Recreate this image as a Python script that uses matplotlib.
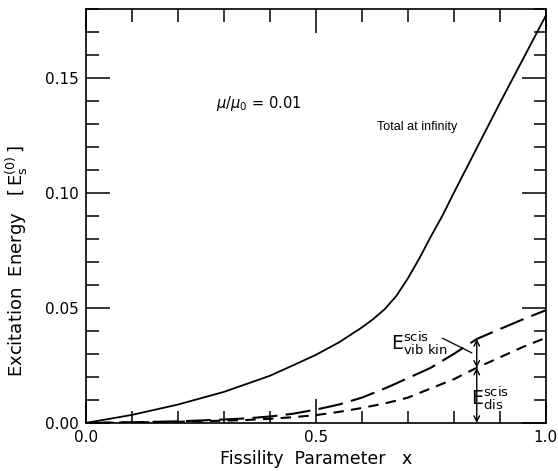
import numpy as np
import matplotlib
matplotlib.use('Agg')
import matplotlib.pyplot as plt
from matplotlib.ticker import MultipleLocator

# values
x_fis = [0.0, 0.1, 0.2, 0.3, 0.35, 0.4, 0.45, 0.5, 0.55, 0.6, 0.625, 0.65, 0.675, 0.7, 0.725, 0.75, 0.775,
         0.8, 0.85, 0.9, 0.95, 1.0]
total_inf = [0.0, 0.0035, 0.008, 0.0135, 0.017, 0.0205, 0.025, 0.0296, 0.035, 0.0415, 0.0452, 0.0495,
             0.0552, 0.0628, 0.0715, 0.081, 0.090, 0.100, 0.1195, 0.139, 0.158, 0.177]
vib_kin = [0.0, 0.0003, 0.0007, 0.0015, 0.002, 0.0028, 0.004, 0.0058, 0.008, 0.011, 0.013, 0.015,
           0.0172, 0.0195, 0.0217, 0.024, 0.027, 0.030, 0.0365, 0.0408, 0.045, 0.049]
dis = [0.0, 0.0002, 0.0005, 0.001, 0.0013, 0.0018, 0.0025, 0.0034, 0.0048, 0.0065, 0.0075, 0.0085,
       0.0097, 0.011, 0.013, 0.015, 0.017, 0.019, 0.024, 0.0285, 0.033, 0.037]

x_arrow = 0.85
y_vib = 0.0365
y_dis = 0.024

plt.rcParams['font.family'] = 'DejaVu Sans'
plt.rcParams['mathtext.fontset'] = 'dejavusans'

fig = plt.figure(figsize=(5.58, 4.71), dpi=100)
ax = fig.add_axes([0.154, 0.102, 0.824, 0.879])

ax.plot(x_fis, total_inf, color='black', lw=1.3)
ax.plot(x_fis, vib_kin, color='black', lw=1.5, dashes=(12, 4))
ax.plot(x_fis, dis, color='black', lw=1.5, dashes=(5, 3.5))

# double arrows marking the two energies
ax.annotate('', xy=(x_arrow, y_vib), xytext=(x_arrow, y_dis),
            arrowprops=dict(arrowstyle='<->', color='black', lw=1, shrinkA=0, shrinkB=0))
ax.annotate('', xy=(x_arrow, y_dis), xytext=(x_arrow, 0.0),
            arrowprops=dict(arrowstyle='<->', color='black', lw=1, shrinkA=0, shrinkB=0))

ax.text(0.663, 0.0345, r'$\mathrm{E}^{\mathrm{scis}}_{\mathrm{vib\ kin}}$', fontsize=13.5,
        ha='left', va='center')
ax.plot([0.776, 0.839], [0.0368, 0.0305], color='black', lw=0.9)
ax.text(0.838, 0.011, r'$\mathrm{E}^{\mathrm{scis}}_{\mathrm{dis}}$', fontsize=13.5,
        ha='left', va='center')

ax.text(0.283, 0.139, r'$\mu/\mu_0$ = 0.01', fontsize=10.5, ha='left', va='center')
ax.text(0.72, 0.1287, 'Total at infinity', fontsize=9, family='Liberation Sans',
        ha='center', va='center')

ax.set_xlim(0, 1.0)
ax.set_ylim(0, 0.18)
ax.set_xticks([0.0, 0.5, 1.0])
ax.set_xticklabels(['0.0', '0.5', '1.0'])
ax.set_yticks([0.0, 0.05, 0.10, 0.15])
ax.set_yticklabels(['0.00', '0.05', '0.10', '0.15'])
ax.xaxis.set_minor_locator(MultipleLocator(0.1))
ax.yaxis.set_minor_locator(MultipleLocator(0.01))
ax.tick_params(which='both', direction='in', top=True, right=True, labelsize=11, width=1.1, pad=5)
ax.tick_params(which='major', length=17)
ax.tick_params(which='minor', length=9)
for s in ax.spines.values():
    s.set_linewidth(1.2)

ax.set_xlabel('Fissility  Parameter   x', fontsize=12.5, labelpad=4)
ax.set_ylabel(r'Excitation  Energy   $[\,\mathrm{E}_{\mathrm{s}}^{(0)}\,]$', fontsize=13)
ax.yaxis.set_label_coords(-0.122, 0.39)

fig.savefig('out.png', dpi=100)
